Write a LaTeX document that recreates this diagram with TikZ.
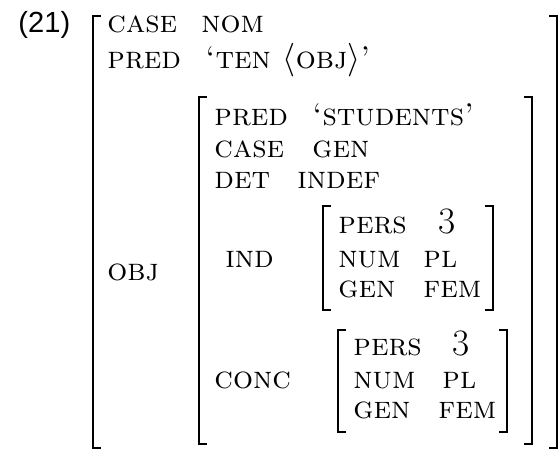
\documentclass[tikz,border=0pt]{standalone}
\usepackage{fontspec}
\newfontfamily\exfont{Liberation Sans}
\begin{document}
\begin{tikzpicture}[x=0.42934pt,y=-0.42934pt]
\tikzset{
  attr/.style={anchor=base west, inner sep=0pt, font=\fontsize{13.5}{16}\selectfont\scshape},
  numval/.style={anchor=base west, inner sep=0pt, font=\fontsize{16}{19}\selectfont},
  brk/.style={line width=0.9pt, line cap=butt, line join=miter}
}
\useasboundingbox (0,0) rectangle (559,450);
% example number
\node[anchor=base west, inner sep=0pt, font=\fontsize{12.5}{15}\selectfont\exfont] (exnum) at (18,33) {(21)};
% brackets: left / right, each with top and bottom serifs
\newcommand\AvmLeft[3]{\draw[brk] (#1+8,#2) -- (#1,#2) -- (#1,#3) -- (#1+8,#3);}
\newcommand\AvmRight[3]{\draw[brk] (#1-8,#2) -- (#1,#2) -- (#1,#3) -- (#1-8,#3);}
\AvmLeft{93}{16}{448}\AvmRight{557}{16}{448}
\AvmLeft{199}{97}{444}\AvmRight{532}{97}{444}
\AvmLeft{323}{206}{310}\AvmRight{493}{206}{310}
\AvmLeft{338}{330}{432}\AvmRight{507}{330}{432}
% outer matrix
\node[attr] (caseA) at (107,32) {case};
\node[attr] (nomA) at (201,32) {nom};
\node[attr] (predA) at (107,68) {pred};
\node[attr] (tenA) at (205,68) {`ten $\langle$obj$\rangle$'};
\node[attr] (objA) at (107,280) {obj};
% object matrix
\node[attr] (predB) at (214,125) {pred};
\node[attr] (studB) at (312,125) {`students'};
\node[attr] (caseB) at (214,157) {case};
\node[attr] (genB) at (312,157) {gen};
\node[attr] (detB) at (214,188) {det};
\node[attr] (indefB) at (297,188) {indef};
\node[attr] (indB) at (225,267) {ind};
\node[attr] (concB) at (214,388) {conc};
% ind matrix
\node[attr] (persC) at (338,233) {pers};
\node[numval] (threeC) at (438,233) {3};
\node[attr] (numC) at (338,267) {num};
\node[attr] (plC) at (423,267) {pl};
\node[attr] (genC) at (338,297) {gen};
\node[attr] (femC) at (423,297) {fem};
% conc matrix
\node[attr] (persD) at (353,355) {pers};
\node[numval] (threeD) at (452,355) {3};
\node[attr] (numD) at (353,388) {num};
\node[attr] (plD) at (442,388) {pl};
\node[attr] (genD) at (353,418) {gen};
\node[attr] (femD) at (438,418) {fem};
\end{tikzpicture}
\end{document}
